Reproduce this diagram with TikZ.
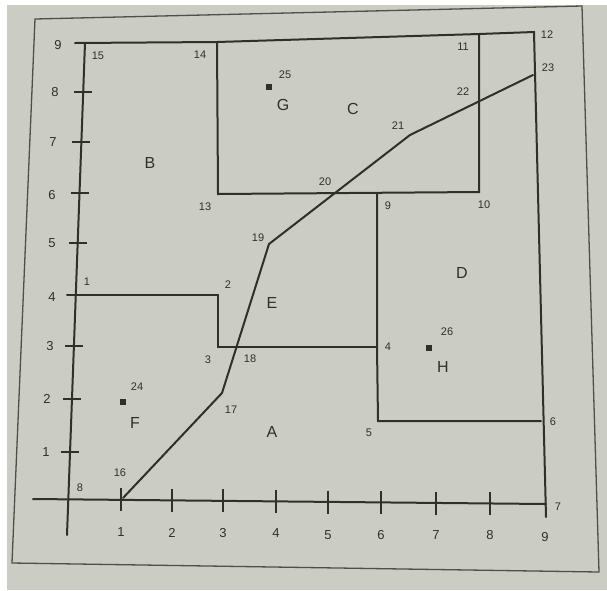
\documentclass[tikz,border=0pt]{standalone}
\usepackage{fontspec}
\setmainfont{Liberation Sans}
\definecolor{ink}{HTML}{303029}
\definecolor{paper}{HTML}{CBCCC4}
\begin{document}
\begin{tikzpicture}[x=1pt,y=-1pt,
  ln/.style={line width=2pt, draw=ink, line cap=round, line join=miter},
  tick/.style={line width=1.8pt, draw=ink},
  frm/.style={line width=1.3pt, draw=ink!85},
  num/.style={font=\fontsize{11}{11}\selectfont, text=ink, inner sep=0pt},
  axl/.style={font=\fontsize{13}{13}\selectfont, text=ink, inner sep=0pt},
  reg/.style={font=\fontsize{16}{16}\selectfont, text=ink, inner sep=0pt},
  mk/.style={fill=ink, minimum size=5.5pt, inner sep=0pt},
]
\useasboundingbox (0,0) rectangle (607,590);
\fill[white] (0,0) rectangle (607,590);
\fill[paper] (7,5) rectangle (607,590);
% outer frame (paper edge)
\coordinate (f1) at (35,19);
\coordinate (f2) at (582,6);
\coordinate (f3) at (599,572);
\coordinate (f4) at (12,563);
\draw[frm] (f1) -- (f2) -- (f3) -- (f4) -- cycle;

% main corners
\coordinate (t0) at (75,43);
\coordinate (c15) at (85,43);
\coordinate (c12) at (534,32);
\coordinate (c7) at (546,504);
\coordinate (r9) at (546,517);
\coordinate (ya) at (67,535);
\coordinate (xa) at (33,499);
% C box
\coordinate (c14) at (217,42);
\coordinate (c13) at (218,194);
\coordinate (c10) at (479,192);
\coordinate (c11) at (479,34);
% D box
\coordinate (c9) at (377,193);
\coordinate (c4) at (377,347);
\coordinate (c5) at (378,421);
\coordinate (c6) at (541,421);
% E box
\coordinate (t4) at (67,295);
\coordinate (c2) at (218,295);
\coordinate (c3) at (218,347);
% polyline
\coordinate (c16) at (123,498);
\coordinate (c17) at (222,393);
\coordinate (c19) at (269,244);
\coordinate (c21) at (410,135);
\coordinate (c23) at (533,75);

% outline
\draw[ln] (t0) -- (c14) -- (c11) -- (c12) -- (r9);
\draw[ln] (c15) -- (ya);
\draw[ln] (xa) -- (c7);
\draw[ln] (c14) -- (c13) -- (c10) -- (c11);
\draw[ln] (c9) -- (c4) -- (c5) -- (c6);
\draw[ln] (t4) -- (c2) -- (c3) -- (c4);
\draw[ln] (c16) -- (c17) -- (c19) -- (c21) -- (c23);

% y ticks
\foreach \yy/\xx in {452/69.8, 399/71.9, 346/73.9, 243/77.7, 193/79.5, 142/81.4, 92/83.2}{
  \draw[tick] (\xx-9,\yy) -- (\xx+9,\yy);
}
% x ticks
\foreach \xx/\yy in {121/499, 172/499.5, 223/500, 276/500.5, 328/501.5, 381/502, 436/502.5, 490/503}{
  \draw[tick] (\xx,\yy-11) -- (\xx,\yy+12);
}

% y axis labels
\node[axl] (y1) at (46,452) {1};
\node[axl] (y2) at (47,399) {2};
\node[axl] (y3) at (50,346) {3};
\node[axl] (y4) at (52,297) {4};
\node[axl] (y5) at (52,243) {5};
\node[axl] (y6) at (52,195) {6};
\node[axl] (y7) at (53,142) {7};
\node[axl] (y8) at (55,92) {8};
\node[axl] (y9) at (58,45) {9};
% x axis labels
\node[axl] (x1) at (121,532) {1};
\node[axl] (x2) at (172,533) {2};
\node[axl] (x3) at (223,533) {3};
\node[axl] (x4) at (276,533) {4};
\node[axl] (x5) at (328,535) {5};
\node[axl] (x6) at (381,535) {6};
\node[axl] (x7) at (436,535) {7};
\node[axl] (x8) at (490,535) {8};
\node[axl] (x9) at (545,537) {9};

% point numbers
\node[num] (n1) at (87,282) {1};
\node[num] (n2) at (228,285) {2};
\node[num] (n3) at (208,360) {3};
\node[num] (n4) at (388,347) {4};
\node[num] (n5) at (369,433) {5};
\node[num] (n6) at (553,422) {6};
\node[num] (n7) at (558,507) {7};
\node[num] (n8) at (80,488) {8};
\node[num] (n9) at (388,206) {9};
\node[num] (n10) at (484,205) {10};
\node[num] (n11) at (463,47) {11};
\node[num] (n12) at (547,35) {12};
\node[num] (n13) at (205,207) {13};
\node[num] (n14) at (200,55) {14};
\node[num] (n15) at (98,56) {15};
\node[num] (n16) at (120,473) {16};
\node[num] (n17) at (231,410) {17};
\node[num] (n18) at (250,359) {18};
\node[num] (n19) at (258,238) {19};
\node[num] (n20) at (325,182) {20};
\node[num] (n21) at (398,126) {21};
\node[num] (n22) at (463,92) {22};
\node[num] (n23) at (548,68) {23};
\node[num] (n24) at (137,387) {24};
\node[num] (n25) at (285,75) {25};
\node[num] (n26) at (447,332) {26};

% markers
\node[mk] (mG) at (269,87) {};
\node[mk] (mF) at (123,402) {};
\node[mk] (mH) at (429,348) {};

% region letters
\node[reg] (rB) at (150,163) {B};
\node[reg] (rG) at (283,105) {G};
\node[reg] (rC) at (353,109) {C};
\node[reg] (rE) at (272,303) {E};
\node[reg] (rD) at (462,273) {D};
\node[reg] (rH) at (443,367) {H};
\node[reg] (rF) at (135,423) {F};
\node[reg] (rA) at (272,432) {A};
\end{tikzpicture}
\end{document}
